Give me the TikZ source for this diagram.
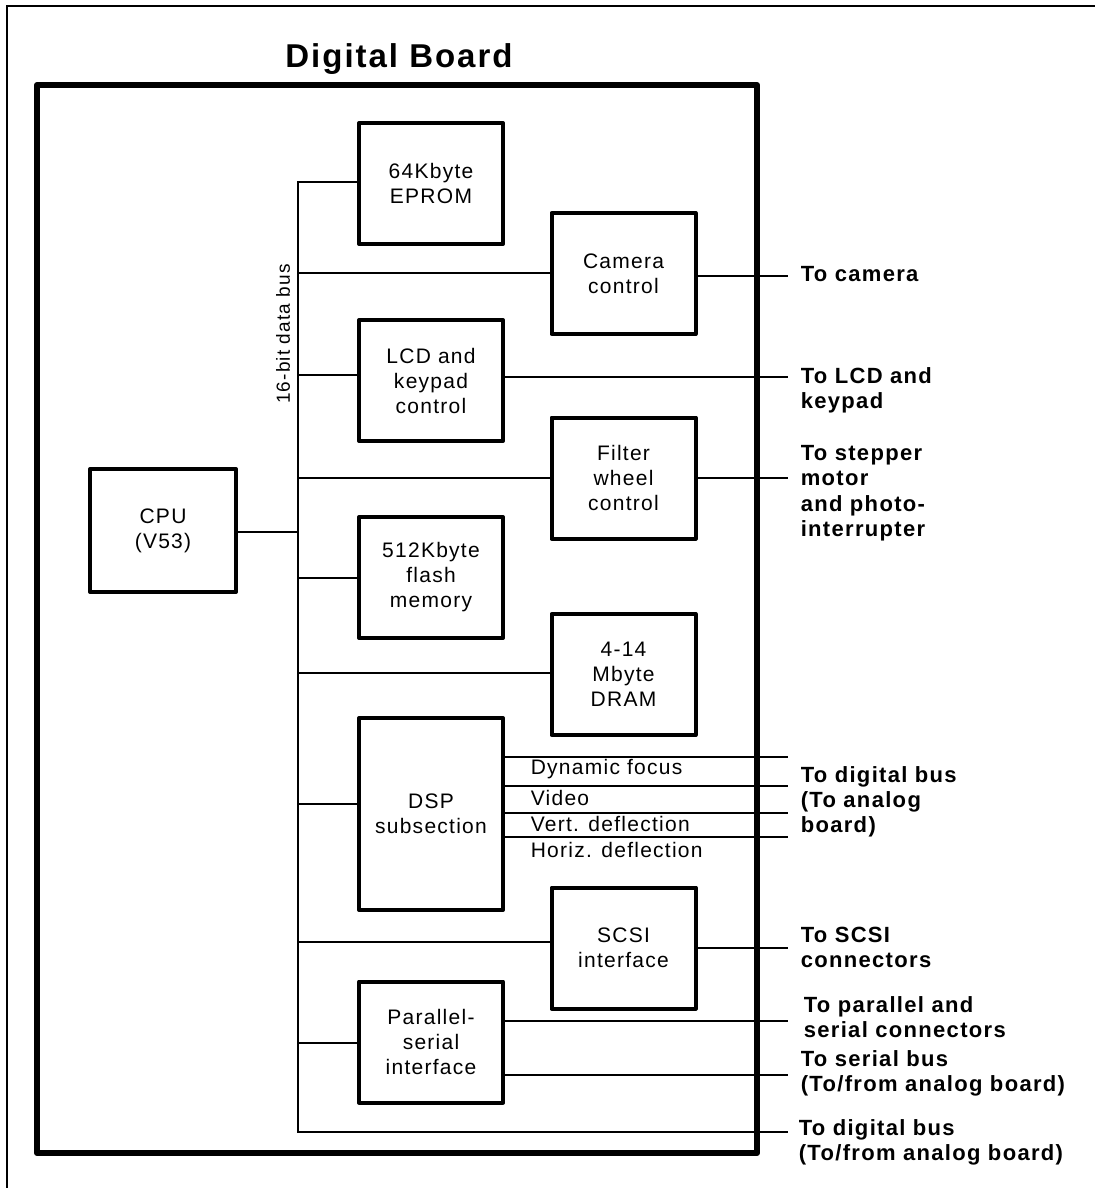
\documentclass[tikz,border=0pt]{standalone}
\usepackage{fontspec}
\setmainfont{Liberation Sans}[LetterSpace=6]
\tikzstyle{block}=[rectangle,draw,line width=4pt,line join=round,minimum width=144pt,minimum height=121pt,inner sep=0pt,align=center,font=\fontsize{21}{25}\selectfont]
\newcommand{\block}{\node[block]}
\tikzstyle{outlabel}=[anchor=north west,inner sep=0pt,align=left,font=\fontsize{22}{25.3}\selectfont\bfseries]
\tikzstyle{siglabel}=[anchor=base west,inner sep=0pt,font=\fontsize{21}{25}\selectfont]
\begin{document}
\begin{tikzpicture}[x=1pt,y=-1pt,line width=1.6pt]
			\useasboundingbox (0,0) rectangle (1095,1188);
			% % % % % % % % % % % % % % % % % % % % % % % % % % % % %
			\coordinate (f1) at (7,1188);
			\coordinate (f2) at (7,6);
			\coordinate (f3) at (1095,6);
			\draw [line width=2.4pt] (f1) -- (f2) -- (f3);
			\node [draw,line width=6pt,line join=round,minimum width=720pt,minimum height=1068pt,inner sep=0pt] (board) at (397,619) {};
			\node [anchor=base,font=\fontsize{33}{38}\selectfont\bfseries] (title) at (399,68) {Digital Board};
			%*********************
			\block (eprom) at (431,183.5) {64Kbyte\\EPROM};
			\block (camera) at (623.5,273.5) {Camera\\control};
			\block (lcd) at (431,380.5) {LCD and\\keypad\\control};
			\block (filter) at (623.5,478) {Filter\\wheel\\control};
			\block [minimum width=146pt,minimum height=123pt] (cpu) at (163,530.5) {CPU\\(V53)};
			\block (flash) at (431,577.5) {512Kbyte\\flash\\memory};
			\block (dram) at (623.5,674.5) {4-14\\Mbyte\\DRAM};
			\block [minimum height=192pt] (dsp) at (431,814) {DSP\\subsection};
			\block (scsi) at (623.5,948) {SCSI\\interface};
			\block (para) at (431,1042) {Parallel-\\serial\\interface};
			\node [rotate=90,inner sep=0pt,font=\fontsize{19}{22}\selectfont] (buslabel) at (283,334) {16-bit data bus};
			%*********************
			\coordinate (b1) at (298,182);
			\coordinate (b2) at (298,273);
			\coordinate (b3) at (298,375);
			\coordinate (b4) at (298,478);
			\coordinate (b5) at (298,532);
			\coordinate (b6) at (298,578);
			\coordinate (b7) at (298,673);
			\coordinate (b8) at (298,804);
			\coordinate (b9) at (298,942);
			\coordinate (b10) at (298,1043);
			\coordinate (b11) at (298,1132);
			%*********************
			\coordinate (o1) at (788,276);
			\coordinate (o2) at (788,377);
			\coordinate (o3) at (788,478);
			\coordinate (o4) at (788,757);
			\coordinate (o5) at (788,786);
			\coordinate (o6) at (788,813);
			\coordinate (o7) at (788,837);
			\coordinate (o8) at (788,948);
			\coordinate (o9) at (788,1021);
			\coordinate (o10) at (788,1075);
			\coordinate (o11) at (788,1132);
			% % % % % % % % % % % % % % % % %
			\node [outlabel] (tcam) at (800,265.5) {To camera};
			\node [outlabel] (tlcd) at (800,366.5) {To LCD and\\keypad};
			\node [outlabel] (tstep) at (800,444.5) {To stepper\\motor\\and photo-\\interrupter};
			\node [outlabel] (tdig) at (800,765.5) {To digital bus\\(To analog\\board)};
			\node [outlabel] (tscsi) at (800,926.5) {To SCSI\\connectors};
			\node [outlabel] (tpar) at (803,995.5) {To parallel and\\serial connectors};
			\node [outlabel] (tser) at (800,1049.5) {To serial bus\\(To/from analog board)};
			\node [outlabel] (tdig2) at (798,1118.5) {To digital bus\\(To/from analog board)};
			%*********************
			\node [siglabel] (sfocus) at (530,774) {Dynamic focus};
			\node [siglabel] (svideo) at (530,805) {Video};
			\node [siglabel] (svert) at (530,831) {Vert. deflection};
			\node [siglabel] (shoriz) at (530,857) {Horiz. deflection};
			% % % % % % % % % % % % % % % % %
			\draw (b1 -| eprom.west) -- (b1) -- (b11) -- (o11);
			\path
			(b2) edge [] (b2 -| camera.west)
			(b3) edge [] (b3 -| lcd.west)
			(b4) edge [] (b4 -| filter.west)
			(cpu.east |- b5) edge [] (b5)
			(b6) edge [] (b6 -| flash.west)
			(b7) edge [] (b7 -| dram.west)
			(b8) edge [] (b8 -| dsp.west)
			(b9) edge [] (b9 -| scsi.west)
			(b10) edge [] (b10 -| para.west)
			%**************
			(camera.east |- o1) edge [] (o1)
			(lcd.east |- o2) edge [] (o2)
			(filter.east |- o3) edge [] (o3)
			(dsp.east |- o4) edge [] (o4)
			(dsp.east |- o5) edge [] (o5)
			(dsp.east |- o6) edge [] (o6)
			(dsp.east |- o7) edge [] (o7)
			(scsi.east |- o8) edge [] (o8)
			(para.east |- o9) edge [] (o9)
			(para.east |- o10) edge [] (o10)
			;
\end{tikzpicture}
\end{document}
